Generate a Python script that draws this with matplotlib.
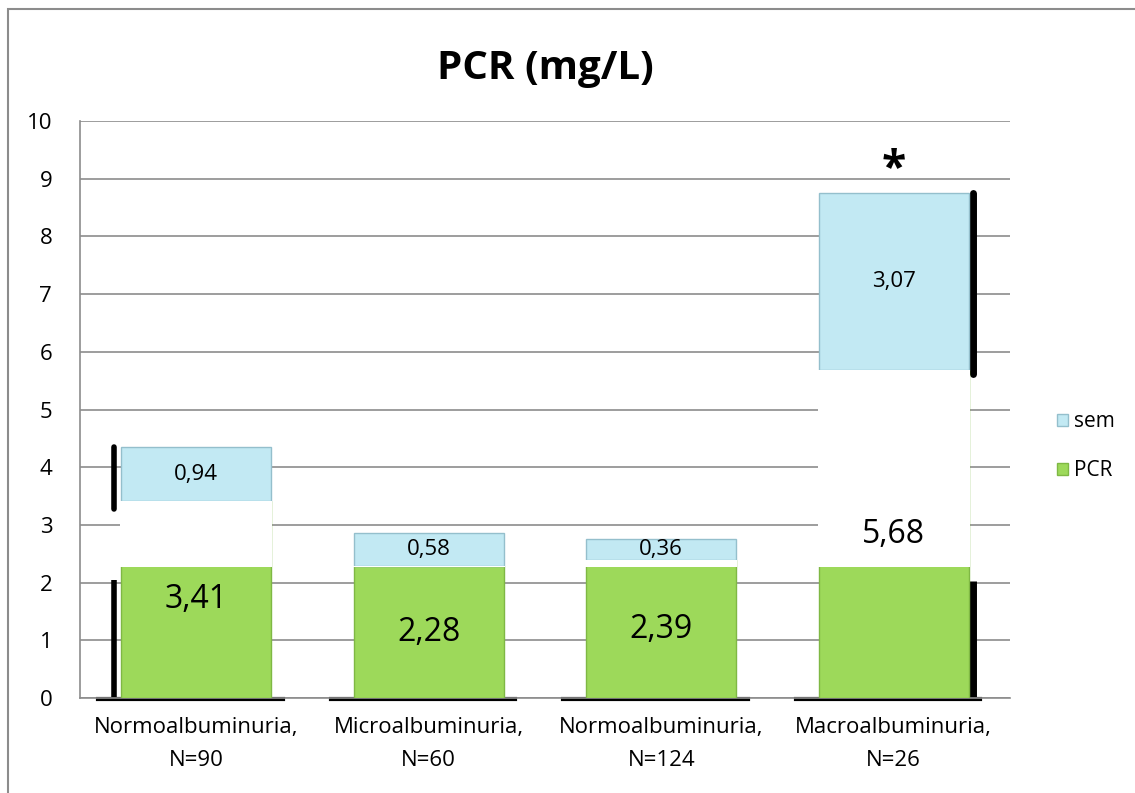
import matplotlib.pyplot as plt
import numpy as np
from matplotlib.patches import Rectangle

# PCR means and standard errors by albuminuria group
groups = ['Normoalbuminuria,\nN=90', 'Microalbuminuria,\nN=60',
          'Normoalbuminuria,\nN=124', 'Macroalbuminuria,\nN=26']
pcr = [3.41, 2.28, 2.39, 5.68]
sem = [0.94, 0.58, 0.36, 3.07]
pcr_labels = ['3,41', '2,28', '2,39', '5,68']
sem_labels = ['0,94', '0,58', '0,36', '3,07']
yticks = [0, 1, 2, 3, 4, 5, 6, 7, 8, 9, 10]

# the green fill only shows up to this level, the rest of the bar is blanked
fill_top = 2.27

green = '#9dd95a'
blue = '#c2e9f3'
grey = '#8c8c8c'

plt.rcParams['font.family'] = ['Open Sans', 'DejaVu Sans']

fig = plt.figure(figsize=(11.35, 7.93), dpi=100)
ax = fig.add_axes([0.0705, 0.1198, 0.8194, 0.7276])

x = np.arange(len(groups))
width = 0.645

ax.bar(x, pcr, width, color=green, edgecolor='#7fb844', linewidth=1.0,
       zorder=3, label='PCR')
ax.bar(x, sem, width, bottom=pcr, color=blue, edgecolor='#94bfcc',
       linewidth=1.0, zorder=3, label='sem')

# white band hiding the green above fill_top
for xi, v in zip(x, pcr):
    if v > fill_top:
        ax.bar(xi, v - fill_top, width + 0.01, bottom=fill_top,
               color='white', linewidth=0, zorder=4)

# dark shadow strokes along the bar edges
ax.plot([x[0] - width / 2 - 0.03] * 2, [0, 2.05], color='black', lw=4,
        zorder=2, solid_capstyle='butt')
ax.plot([x[0] - width / 2 - 0.03] * 2, [3.28, 4.35], color='black', lw=4,
        zorder=2, solid_capstyle='round')
ax.plot([x[3] + width / 2 + 0.02] * 2, [0, 2.03], color='black', lw=5,
        zorder=2, solid_capstyle='butt')
ax.plot([x[3] + width / 2 + 0.02] * 2, [5.62, 8.75], color='black', lw=5,
        zorder=2, solid_capstyle='round')
for xi in x:
    ax.plot([xi - width / 2 - 0.1, xi + width / 2 + 0.05], [-0.02, -0.02],
            color='black', lw=3, zorder=2, clip_on=False)

# value labels
for xi, v, s, pl, sl in zip(x, pcr, sem, pcr_labels, sem_labels):
    ax.text(xi, v / 2, pl, ha='center', va='center', fontsize=23, zorder=5)
    ax.text(xi, v + s / 2, sl, ha='center', va='center', fontsize=16,
            zorder=5)

ax.text(x[3], 9.15, '*', ha='center', va='center', fontsize=32,
        fontweight='bold', zorder=5)

ax.set_xlim(-0.5, 3.5)
ax.set_ylim(0, 10)
ax.set_yticks(yticks)
ax.set_xticks(x)
ax.set_xticklabels(groups, fontsize=16, linespacing=1.75)
ax.tick_params(axis='y', labelsize=16, length=0, pad=20)
ax.tick_params(axis='x', length=0, pad=14)
ax.yaxis.grid(True, color=grey, linewidth=1.2, zorder=0)
ax.set_axisbelow(True)
for side in ['top', 'right']:
    ax.spines[side].set_visible(False)
for side in ['left', 'bottom']:
    ax.spines[side].set_color(grey)
    ax.spines[side].set_linewidth(1.2)

ax.set_title('PCR (mg/L)', fontsize=29, fontweight='bold', pad=30)

handles, labels = ax.get_legend_handles_labels()
ax.legend(handles[::-1], labels[::-1], loc='center left',
          bbox_to_anchor=(1.03, 0.436), frameon=False, fontsize=15,
          handlelength=0.55, handleheight=0.55, handletextpad=0.3,
          labelspacing=1.35)

# outer chart border
fig.patches.append(Rectangle((8 / 1135, -0.1), 1.2, 1 - 9 / 793 + 0.1,
                             transform=fig.transFigure, fill=False,
                             edgecolor=grey, linewidth=1.5))

fig.savefig('out.png', dpi=100)
